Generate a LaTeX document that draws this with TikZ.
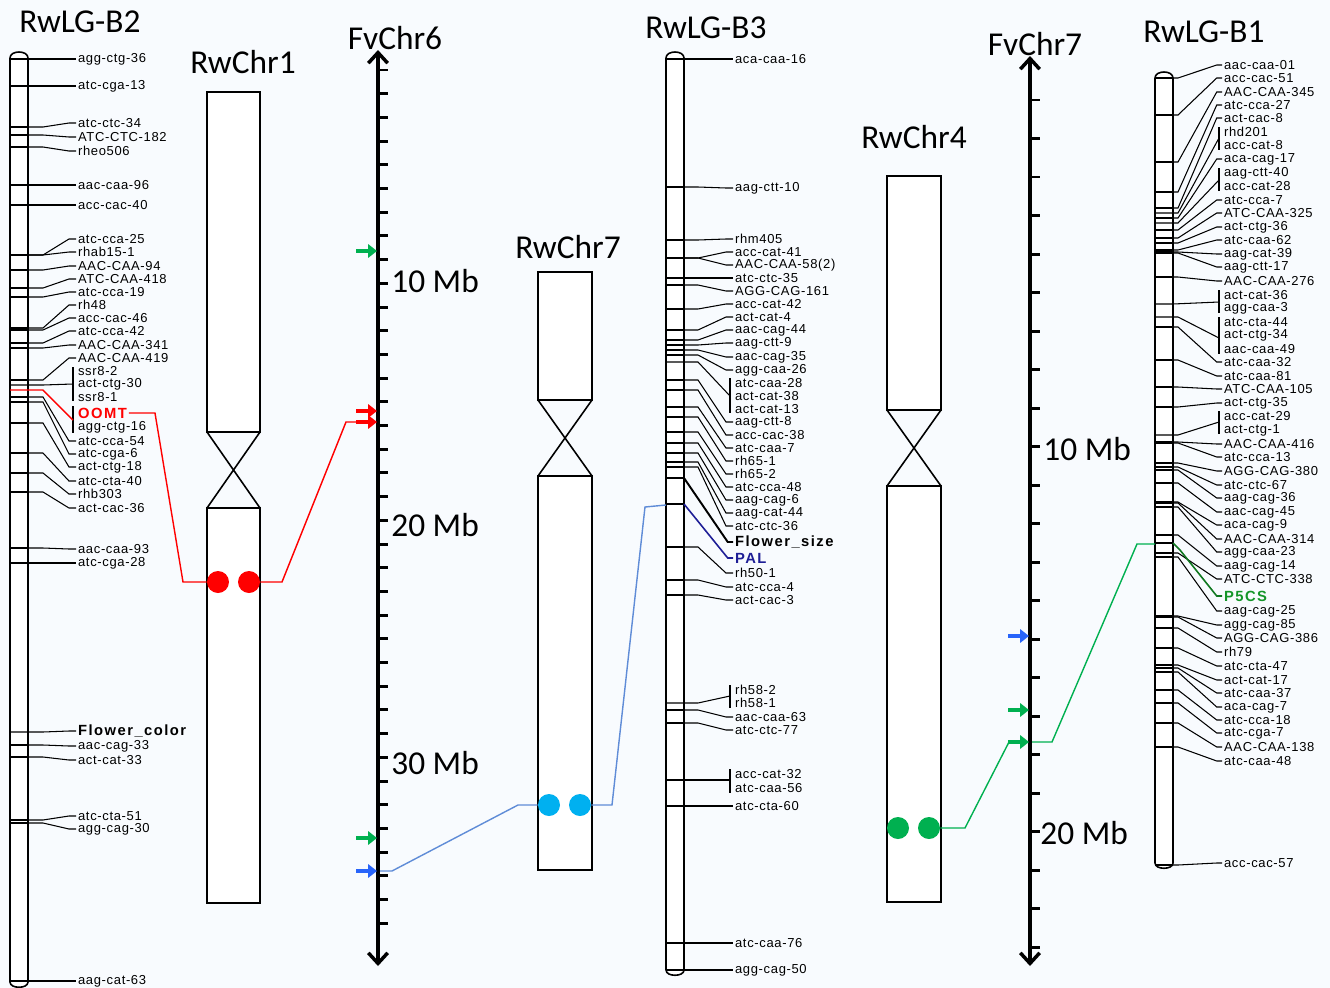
\documentclass[tikz,border=0pt]{standalone}
\usepackage{fontspec}
\usetikzlibrary{arrows.meta}
\newfontfamily\mkfont[LetterSpace=5]{Liberation Sans}
\newfontfamily\mkbfont[LetterSpace=10]{Liberation Sans Bold}
\newfontfamily\ttlfont{Carlito}
\definecolor{bgcol}{RGB}{248,251,254}
\definecolor{synblue}{RGB}{95,140,215}
\definecolor{arrblue}{RGB}{40,100,250}
\definecolor{syngreen}{RGB}{0,176,80}
\definecolor{dotcyan}{RGB}{0,176,240}
\definecolor{palblue}{RGB}{30,30,150}
\definecolor{pgreen}{RGB}{20,150,40}

\begin{document}
\begin{tikzpicture}[x=0.02cm, y=-0.02cm,
    mk/.style={font=\mkfont\fontsize{7.4}{8}\selectfont, anchor=west, inner xsep=1pt, inner ysep=0pt},
    mkb/.style={mk, font=\mkbfont\fontsize{8.4}{9}\selectfont},
    ttl/.style={font=\ttlfont\fontsize{19}{22}\selectfont, inner sep=0pt},
    mkline/.style={line width=0.6pt},
    lgbar/.style={line width=0.9pt, fill=white},
    chrom/.style={line width=0.9pt, fill=white},
    axis/.style={line width=2pt, {Straight Barb[length=6pt,width=11pt]}-{Straight Barb[length=6pt,width=11pt]}},
    axtick/.style={line width=1.7pt},
    hit/.style={line width=2.2pt, -{Triangle[length=5pt,width=7.5pt]}},
    dot/.style={circle, minimum size=0.44cm, inner sep=0pt},
  ]
  \fill[bgcol] (0,0) rectangle (1330,988);
  \useasboundingbox (0,0) rectangle (1330,988);

  % titles
  \node[ttl] (tb2) at (80,22) {RwLG-B2};
  \node[ttl] (tc1) at (243,62) {RwChr1};
  \node[ttl] (tf6) at (395,38) {FvChr6};
  \node[ttl] (tc7) at (568,247) {RwChr7};
  \node[ttl] (tb3) at (706,28) {RwLG-B3};
  \node[ttl] (tc4) at (914,137) {RwChr4};
  \node[ttl] (tf7) at (1035,44) {FvChr7};
  \node[ttl] (tb1) at (1204,32) {RwLG-B1};

  % linkage group bars
  \draw[lgbar] (10,58) .. controls (10,50) and (28,50) .. (28,58) -- (28,982)
      .. controls (28,989) and (10,989) .. (10,982) -- cycle;
  \draw[lgbar] (666,58) .. controls (666,50) and (684,50) .. (684,58) -- (684,970)
      .. controls (684,977) and (666,977) .. (666,970) -- cycle;
  \draw[lgbar] (1155,78) .. controls (1155,70) and (1173,70) .. (1173,78) -- (1173,863)
      .. controls (1173,870) and (1155,870) .. (1155,863) -- cycle;

  % physical chromosomes
  \draw[chrom] (207,92) rectangle (260,432);
  \draw[chrom] (207,508) rectangle (260,903);
  \draw[chrom] (207,432) -- (260,508) (260,432) -- (207,508);
  \draw[chrom] (538,272) rectangle (592,400);
  \draw[chrom] (538,476) rectangle (592,870);
  \draw[chrom] (538,400) -- (592,476) (592,400) -- (538,476);
  \draw[chrom] (887,176) rectangle (941,410);
  \draw[chrom] (887,486) rectangle (941,902);
  \draw[chrom] (887,410) -- (941,486) (941,410) -- (887,486);

  % FvChr6 axis
  \coordinate (f6top) at (378,50);
  \coordinate (f6bot) at (378,966);
  \draw[axis] (f6bot) -- (f6top);
  \foreach \k in {0,...,36}
    \draw[axtick] (378,70+\k*23.7) -- ++(10,0);
  \node[ttl, anchor=west] (f6a) at (391,281) {10 Mb};
  \node[ttl, anchor=west] (f6b) at (391,525) {20 Mb};
  \node[ttl, anchor=west] (f6c) at (391,763) {30 Mb};

  % FvChr7 axis
  \coordinate (f7top) at (1030,56);
  \coordinate (f7bot) at (1030,966);
  \draw[axis] (f7bot) -- (f7top);
  \foreach \k in {0,...,22}
    \draw[axtick] (1030,100+\k*38.5) -- ++(10,0);
  \node[ttl, anchor=west] (f7a) at (1043,449) {10 Mb};
  \node[ttl, anchor=west] (f7b) at (1040,833) {20 Mb};

  % RwLG-B2 markers
  \foreach \yb/\yl/\txt [count=\i] in {59/59/agg-ctg-36, 86/86/atc-cga-13, 127/123/atc-ctc-34,
      135/137/ATC-CTC-182, 147/151/rheo506, 185/185/aac-caa-96, 205/205/acc-cac-40,
      255/239/atc-cca-25, 255/252/rhab15-1, 270/266/AAC-CAA-94, 288/279/ATC-CAA-418,
      297/292/atc-cca-19, 328/305/rh48, 330/318/acc-cac-46, 343/331/atc-cca-42,
      348/345/AAC-CAA-341, 380/358/AAC-CAA-419, 397/441/atc-cca-54, 402/454/atc-cga-6,
      423/467/act-ctg-18, 453/481/atc-cta-40, 473/494/rhb303, 492/508/act-cac-36,
      548/549/aac-caa-93, 563/563/atc-cga-28, 745/746/aac-cag-33, 757/760/act-cat-33,
      820/816/atc-cta-51, 823/829/agg-cag-30, 981/981/aag-cat-63}{
    \draw[mkline] (10,\yb) -- (28,\yb);
    \node[mk] (b2m\i) at (76,\yl) {\txt};
    \draw[mkline] (28,\yb) -- (43,\yb) -- ([xshift=-4pt]b2m\i.west) -- (b2m\i.west);
  }
  \foreach \yl/\txt [count=\i] in {371/ssr8-2, 384/act-ctg-30, 397/ssr8-1}
    \node[mk] (b2s\i) at (76,\yl) {\txt};
  \draw[mkline] (10,385) -- (28,385) -- (43,385) -- (73,384);
  \draw[mkline] (73,367) -- (73,401);
  \node[mkb] (fcol) at (76,731) {Flower\_color};
  \draw[mkline] (10,732) -- (28,732) -- (43,732) -- ([xshift=-4pt]fcol.west) -- (fcol.west);
  \node[mkb, text=red] (oomt) at (76,413) {OOMT};
  \node[mk] (b2o) at (76,427) {agg-ctg-16};
  \draw[mkline] (73,406) -- (73,433);
  \draw[red, line width=0.8pt] (10,390) -- (28,390) -- (43,390) -- (73,420);

  % RwLG-B3 markers
  \foreach \yb/\yl/\txt [count=\i] in {59/59/aca-caa-16, 187/188/aag-ctt-10, 240/239/rhm405,
      258/252/acc-cat-41, 258/265/AAC-CAA-58(2), 278/278/atc-ctc-35, 285/291/AGG-CAG-161,
      309/304/acc-cat-42, 330/317/act-cat-4, 340/330/aac-cag-44, 345/343/aag-ctt-9,
      350/357/aac-cag-35, 355/370/agg-caa-26, 380/422/aag-ctt-8, 390/435/acc-cac-38,
      407/448/atc-caa-7, 417/461/rh65-1, 432/474/rh65-2, 443/487/atc-cca-48,
      453/500/aag-cag-6, 462/513/aag-cat-44, 467/526/atc-ctc-36, 547/573/rh50-1,
      580/587/atc-cca-4, 595/600/act-cac-3, 710/717/aac-caa-63, 723/730/atc-ctc-77,
      806/806/atc-cta-60, 943/943/atc-caa-76, 970/970/agg-cag-50}{
    \draw[mkline] (666,\yb) -- (684,\yb);
    \node[mk] (b3m\i) at (733,\yl) {\txt};
    \draw[mkline] (684,\yb) -- (698,\yb) -- ([xshift=-4pt]b3m\i.west) -- (b3m\i.west);
  }
  \foreach \yl/\txt [count=\i] in {383/atc-caa-28, 396/act-cat-38, 409/act-cat-13}
    \node[mk] (b3s\i) at (733,\yl) {\txt};
  \draw[mkline] (666,362) -- (684,362) -- (698,362) -- (730,396);
  \draw[mkline] (730,378) -- (730,413);
  \foreach \yl/\txt [count=\i] in {690/rh58-2, 703/rh58-1}
    \node[mk] (b3r\i) at (733,\yl) {\txt};
  \draw[mkline] (666,703) -- (684,703) -- (698,703) -- (730,696);
  \draw[mkline] (730,685) -- (730,708);
  \foreach \yl/\txt [count=\i] in {774/acc-cat-32, 788/atc-caa-56}
    \node[mk] (b3q\i) at (733,\yl) {\txt};
  \draw[mkline] (666,780) -- (684,780) -- (730,780);
  \draw[mkline] (730,769) -- (730,793);
  \node[mkb] (fsize) at (733,542) {Flower\_size};
  \draw[mkline] (666,478) -- (684,478);
  \draw[line width=1.1pt] (684,478) -- ([xshift=-3pt]fsize.west) -- (fsize.west);
  \node[mkb, text=palblue] (pal) at (733,558) {PAL};
  \draw[mkline] (666,504) -- (684,504);
  \draw[palblue, line width=0.9pt] (684,504) -- ([xshift=-3pt]pal.west) -- (pal.west);

  % RwLG-B1 markers
  \foreach \yb/\yl/\txt [count=\i] in {78/65/aac-caa-01, 115/78/acc-cac-51, 162/92/AAC-CAA-345,
      192/105/atc-cca-27, 208/118/act-cac-8, 218/159/aca-cag-17, 230/200/atc-cca-7,
      238/213/ATC-CAA-325, 243/227/act-ctg-36, 250/240/atc-caa-62, 252/254/aag-cat-39,
      253/267/aag-ctt-17, 277/281/AAC-CAA-276, 327/362/atc-caa-32, 360/376/atc-caa-81,
      387/389/ATC-CAA-105, 407/403/act-ctg-35, 442/444/AAC-CAA-416, 443/457/atc-cca-13,
      463/471/AGG-CAG-380, 467/485/atc-ctc-67, 470/498/aag-cag-36, 483/512/aac-cag-45,
      502/525/aca-cag-9, 503/539/AAC-CAA-314, 507/552/agg-caa-23, 535/566/aag-cag-14,
      553/579/ATC-CTC-338, 557/611/aag-cag-25, 616/625/agg-cag-85, 617/638/AGG-CAG-386,
      628/652/rh79, 648/666/atc-cta-47, 665/680/act-cat-17, 668/693/atc-caa-37,
      672/707/aca-cag-7, 690/720/atc-cca-18, 703/733/atc-cga-7, 723/747/AAC-CAA-138,
      747/761/atc-caa-48, 865/863/acc-cac-57}{
    \draw[mkline] (1155,\yb) -- (1173,\yb);
    \node[mk] (b1m\i) at (1222,\yl) {\txt};
    \draw[mkline] (1173,\yb) -- (1178,\yb) -- ([xshift=-3pt]b1m\i.west) -- (b1m\i.west);
  }
  \foreach \yl/\txt [count=\i] in {132/rhd201, 145/acc-cat-8}
    \node[mk] (b1a\i) at (1222,\yl) {\txt};
  \draw[mkline] (1155,213) -- (1173,213) -- (1178,213) -- (1219,138);
  \draw[mkline] (1219,127) -- (1219,150);
  \foreach \yl/\txt [count=\i] in {173/aag-ctt-40, 186/acc-cat-28}
    \node[mk] (b1b\i) at (1222,\yl) {\txt};
  \draw[mkline] (1155,223) -- (1173,223) -- (1178,223) -- (1219,180);
  \draw[mkline] (1219,168) -- (1219,191);
  \foreach \yl/\txt [count=\i] in {295/act-cat-36, 308/agg-caa-3}
    \node[mk] (b1c\i) at (1222,\yl) {\txt};
  \draw[mkline] (1155,304) -- (1173,304) -- (1219,302);
  \draw[mkline] (1219,290) -- (1219,313);
  \foreach \yl/\txt [count=\i] in {322/atc-cta-44, 335/act-ctg-34, 349/aac-caa-49}
    \node[mk] (b1d\i) at (1222,\yl) {\txt};
  \draw[mkline] (1155,317) -- (1173,317) -- (1178,317) -- (1219,338);
  \draw[mkline] (1219,317) -- (1219,354);
  \foreach \yl/\txt [count=\i] in {416/acc-cat-29, 430/act-ctg-1}
    \node[mk] (b1e\i) at (1222,\yl) {\txt};
  \draw[mkline] (1155,435) -- (1173,435) -- (1178,435) -- (1219,422);
  \draw[mkline] (1219,411) -- (1219,434);
  \node[mkb, text=pgreen] (p5cs) at (1222,596) {P5CS};
  \draw[mkline] (1155,543) -- (1173,543);
  \draw[pgreen!80!black, line width=0.9pt] (1173,543) -- (1180,550) -- ([xshift=-3pt]p5cs.west) -- (p5cs.west);

  % OOMT synteny (red)
  \node[dot, fill=red] (rd1) at (218,582) {};
  \node[dot, fill=red] (rd2) at (249,582) {};
  \draw[red, line width=0.8pt] (oomt.east) -- (155,413) -- (183,582) -- (rd1);
  \draw[red, line width=0.8pt] (rd2) -- (282,582) -- (346,422) -- (358,422);
  \draw[hit, red] (356,422) -- (377,422);
  \draw[hit, red] (356,411) -- (377,411);

  % PAL synteny (blue)
  \node[dot, fill=dotcyan] (cy1) at (549,805) {};
  \node[dot, fill=dotcyan] (cy2) at (580,805) {};
  \draw[synblue, line width=0.8pt] (380,871) -- (392,871) -- (518,805) -- (cy1);
  \draw[synblue, line width=0.8pt] (cy2) -- (612,805) -- (645,507) -- (666,505);
  \draw[hit, arrblue] (356,871) -- (377,871);

  % P5CS synteny (green)
  \node[dot, fill=syngreen] (gr1) at (898,828) {};
  \node[dot, fill=syngreen] (gr2) at (929,828) {};
  \draw[syngreen, line width=0.8pt] (gr2) -- (965,828) -- (1009,742);
  \draw[hit, syngreen] (1008,742) -- (1029,742);
  \draw[syngreen, line width=0.8pt] (1032,742) -- (1052,742) -- (1137,544) -- (1155,544);

  % other hits
  \draw[hit, syngreen] (356,251) -- (377,251);
  \draw[hit, syngreen] (356,838) -- (377,838);
  \draw[hit, arrblue] (1008,636) -- (1029,636);
  \draw[hit, syngreen] (1008,710) -- (1029,710);
\end{tikzpicture}
\end{document}
